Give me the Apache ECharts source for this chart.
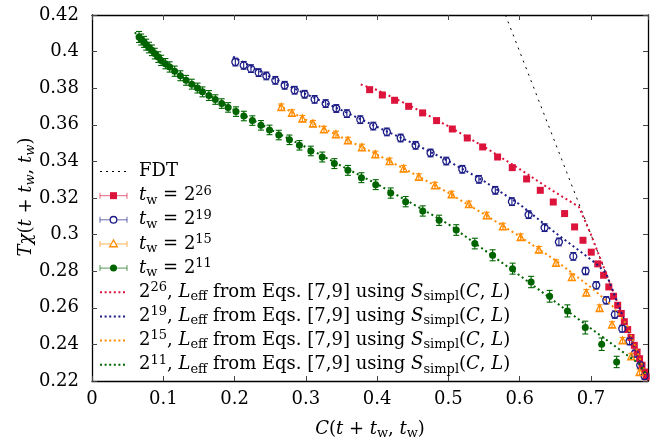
<!DOCTYPE html>
<html><head><meta charset="utf-8">
<script src="https://cdn.jsdelivr.net/npm/echarts@6/dist/echarts.min.js"></script>
<style>html,body{margin:0;padding:0;background:#fff}#c{width:657px;height:445px}</style>
</head><body><div id="c"></div>
<script>
// ---- tick labels ----
const xTickLabels = ['0','0.1','0.2','0.3','0.4','0.5','0.6','0.7'];
const yTickLabels = ['0.22','0.24','0.26','0.28','0.3','0.32','0.34','0.36','0.38','0.4','0.42'];

// ---- FDT line ----
const fdtX = [0.58, 0.78];
const fdtY = [0.42, 0.22];

// ---- t_w = 2^26 (red squares) ----
const rX = [0.3895,0.4073,0.4245,0.4442,0.4638,0.4834,0.5055,0.5265,0.5480,0.5690,0.5896,0.6097,0.6289,0.6471,0.6630,0.6770,0.6888,0.7004,0.7095,0.7177,0.7250,0.7317,0.7375,0.7425,0.7468,0.7515,0.7562,0.7608,0.7647,0.7682,0.7716,0.7752,0.7775];
const rY = [0.3792,0.3763,0.3734,0.3701,0.3665,0.3623,0.3577,0.3528,0.3479,0.3424,0.3366,0.3304,0.3242,0.3178,0.3115,0.3042,0.2969,0.2904,0.2840,0.2778,0.2714,0.2663,0.2614,0.2569,0.2524,0.2481,0.2438,0.2395,0.2358,0.2322,0.2286,0.2249,0.2223];

// ---- t_w = 2^19 (blue open circles) ----
const bX = [0.2011,0.2128,0.2230,0.2338,0.2446,0.2572,0.2703,0.2843,0.2983,0.3123,0.3278,0.3427,0.3576,0.3764,0.3946,0.4137,0.4330,0.4540,0.4750,0.4970,0.5195,0.5428,0.5658,0.5891,0.6125,0.6349,0.6550,0.6752,0.6924,0.7074,0.7215,0.7335,0.7439,0.7541,0.7616,0.7691,0.7752];
const bY = [0.3943,0.3925,0.3907,0.3885,0.3867,0.3843,0.3816,0.3789,0.3767,0.3739,0.3716,0.3689,0.3661,0.3628,0.3593,0.3561,0.3528,0.3488,0.3446,0.3402,0.3357,0.3302,0.3242,0.3180,0.3109,0.3038,0.2960,0.2881,0.2801,0.2723,0.2641,0.2563,0.2486,0.2417,0.2350,0.2286,0.2227];
const bE = [0.0021,0.0021,0.0021,0.0021,0.0021,0.0021,0.0021,0.0021,0.0021,0.0021,0.0021,0.0021,0.0021,0.0021,0.0021,0.0021,0.0021,0.0021,0.0021,0.0021,0.0021,0.0021,0.0021,0.0021,0.0021,0.0021,0.0021,0.0021,0.0020,0.0020,0.0020,0.0020,0.0019,0.0019,0.0019,0.0018,0.0018];

// ---- t_w = 2^15 (orange open triangles) ----
const oX = [0.2656,0.2805,0.2951,0.3100,0.3254,0.3422,0.3590,0.3787,0.3975,0.4175,0.4372,0.4586,0.4811,0.5045,0.5288,0.5536,0.5764,0.6013,0.6269,0.6510,0.6732,0.6934,0.7121,0.7296,0.7443,0.7565,0.7682];
const oY = [0.3697,0.3665,0.3634,0.3607,0.3575,0.3548,0.3515,0.3477,0.3439,0.3401,0.3361,0.3315,0.3269,0.3220,0.3166,0.3105,0.3045,0.2987,0.2918,0.2845,0.2768,0.2683,0.2599,0.2508,0.2422,0.2335,0.2249];
const oE = [0.0017,0.0017,0.0017,0.0017,0.0017,0.0017,0.0017,0.0017,0.0017,0.0017,0.0017,0.0017,0.0017,0.0017,0.0017,0.0017,0.0017,0.0017,0.0017,0.0017,0.0017,0.0017,0.0017,0.0016,0.0016,0.0016,0.0016];

// ---- t_w = 2^11 (green filled circles) ----
const gX = [0.066,0.069,0.073,0.076,0.080,0.084,0.088,0.093,0.097,0.103,0.109,0.116,0.124,0.132,0.140,0.148,0.155,0.164,0.173,0.182,0.191,0.202,0.213,0.225,0.237,0.249,0.262,0.277,0.291,0.307,0.323,0.340,0.359,0.378,0.398,0.419,0.440,0.464,0.487,0.511,0.537,0.562,0.590,0.616,0.642,0.667,0.692,0.715,0.736];
const gY = [0.4080,0.4066,0.4053,0.4038,0.4022,0.4007,0.3989,0.3970,0.3952,0.3934,0.3916,0.3893,0.3868,0.3843,0.3822,0.3801,0.3780,0.3760,0.3738,0.3716,0.3695,0.3672,0.3648,0.3623,0.3597,0.3572,0.3544,0.3518,0.3488,0.3457,0.3424,0.3388,0.3351,0.3311,0.3273,0.3227,0.3180,0.3129,0.3078,0.3025,0.2951,0.2887,0.2814,0.2741,0.2663,0.2583,0.2492,0.2401,0.2304];
const gE = [0.0030,0.0030,0.0030,0.0030,0.0029,0.0029,0.0029,0.0029,0.0028,0.0028,0.0028,0.0028,0.0027,0.0027,0.0027,0.0027,0.0027,0.0027,0.0026,0.0026,0.0026,0.0026,0.0026,0.0026,0.0026,0.0026,0.0026,0.0026,0.0026,0.0026,0.0027,0.0027,0.0027,0.0027,0.0027,0.0028,0.0028,0.0028,0.0028,0.0029,0.0029,0.0030,0.0030,0.0031,0.0032,0.0033,0.0035,0.0034,0.0031];

// ---- dotted theory curves (L_eff from Eqs. [7,9]) ----
const rLineX = [0.377,0.40,0.45,0.50,0.55,0.60,0.64,0.683,0.70,0.72,0.74,0.76,0.778];
const rLineY = [0.3820,0.3790,0.3697,0.3592,0.3480,0.3358,0.3255,0.3152,0.3000,0.2800,0.2600,0.2400,0.2220];
const bLineX = [0.198,0.25,0.30,0.35,0.40,0.45,0.50,0.55,0.60,0.65,0.689,0.707,0.721,0.74,0.76,0.777];
const bLineY = [0.3972,0.3862,0.3768,0.3680,0.3588,0.3500,0.3402,0.3292,0.3165,0.3010,0.2896,0.2842,0.2790,0.2600,0.2400,0.2230];
const oLineX = [0.262,0.30,0.35,0.40,0.45,0.50,0.55,0.60,0.65,0.70,0.73,0.75,0.765,0.777];
const oLineY = [0.3707,0.3628,0.3532,0.3437,0.3335,0.3228,0.3112,0.2990,0.2860,0.2712,0.2610,0.2510,0.2360,0.2230];
const gLineX = [0.060,0.08,0.10,0.13,0.16,0.20,0.25,0.30,0.35,0.40,0.45,0.50,0.55,0.60,0.65,0.70,0.74,0.768,0.778];
const gLineY = [0.4105,0.4027,0.3947,0.3852,0.3772,0.3680,0.3575,0.3478,0.3375,0.3276,0.3168,0.3057,0.2917,0.2777,0.2632,0.2487,0.2372,0.2292,0.2235];

const RED = '#dc143c', BLUE = '#1c1c86', ORANGE = '#ff8c00', GREEN = '#006400';
const SERIF = '"DejaVu Serif", "Liberation Serif", serif';
const FS = 18, FSS = 13;

function zip2(a, b) { return a.map((v, i) => [v, b[i]]); }
function zip3(a, b, c) { return a.map((v, i) => [v, b[i], c[i]]); }

function errRender(color) {
  return function (params, api) {
    const x = api.value(0), y = api.value(1), e = api.value(2);
    const t = api.coord([x, y + e]), b = api.coord([x, y - e]);
    const cw = 3;
    const st = { stroke: color, lineWidth: 1.1 };
    return { type: 'group', children: [
      { type: 'line', shape: { x1: t[0], y1: t[1], x2: b[0], y2: b[1] }, style: st },
      { type: 'line', shape: { x1: t[0] - cw, y1: t[1], x2: t[0] + cw, y2: t[1] }, style: st },
      { type: 'line', shape: { x1: b[0] - cw, y1: b[1], x2: b[0] + cw, y2: b[1] }, style: st }
    ]};
  };
}
function errSeries(x, y, e, color) {
  return { type: 'custom', renderItem: errRender(color), data: zip3(x, y, e),
    encode: { x: 0, y: 1 }, silent: true, animation: false, z: 3 };
}
function dotted(x, y, color) {
  return { type: 'line', data: zip2(x, y), showSymbol: false, symbol: 'none', silent: true,
    lineStyle: { color: color, width: 2, type: [2, 3] }, animation: false, z: 5 };
}

const chart = echarts.init(document.getElementById('c'), null, { renderer: 'canvas' });

const axisCommonX = { type: 'value', min: 0, max: 0.78, interval: 0.1, splitLine: { show: false },
  axisLine: { show: true, onZero: false, lineStyle: { color: '#000', width: 1.3 } },
  axisTick: { show: true, inside: true, length: 5, lineStyle: { color: '#444', width: 1 } } };
const axisCommonY = { type: 'value', min: 0.22, max: 0.42, interval: 0.02, splitLine: { show: false },
  axisLine: { show: true, onZero: false, lineStyle: { color: '#000', width: 1.3 } },
  axisTick: { show: true, inside: true, length: 5, lineStyle: { color: '#444', width: 1 } } };

const rich = {
  i: { fontStyle: 'italic', fontFamily: SERIF, fontSize: FS, color: '#000' },
  sub: { fontFamily: SERIF, fontSize: FSS, padding: [9, 0, 0, 0], color: '#000' },
  isub: { fontFamily: SERIF, fontStyle: 'italic', fontSize: FSS, padding: [9, 0, 0, 0], color: '#000' },
  sup: { fontFamily: SERIF, fontSize: FSS, padding: [0, 0, 9, 0], color: '#000' }
};
function txt(x, y, s, align) {
  return { type: 'text', x: x, y: y, style: { text: s, rich: rich, fontFamily: SERIF, fontSize: FS, fill: '#000', align: align || 'left', verticalAlign: 'middle' } };
}

// legend (graphic)
const LX0 = 100, LX1 = 127, LTX = 139, LY0 = 171.5, LDY = 24.15;
const legendRows = [
  { kind: 'fdt', color: '#000', text: 'FDT' },
  { kind: 'pt', color: RED, sym: 'rect', text: '{i|t}{sub|w} = 2{sup|26}' },
  { kind: 'pt', color: BLUE, sym: 'circle', text: '{i|t}{sub|w} = 2{sup|19}' },
  { kind: 'pt', color: ORANGE, sym: 'triangle', text: '{i|t}{sub|w} = 2{sup|15}' },
  { kind: 'pt', color: GREEN, sym: 'dot', text: '{i|t}{sub|w} = 2{sup|11}' },
  { kind: 'ln', color: RED, text: '2{sup|26}, {i|L}{sub|eff} from Eqs. [7,9] using {i|S}{sub|simpl}({i|C}, {i|L})' },
  { kind: 'ln', color: BLUE, text: '2{sup|19}, {i|L}{sub|eff} from Eqs. [7,9] using {i|S}{sub|simpl}({i|C}, {i|L})' },
  { kind: 'ln', color: ORANGE, text: '2{sup|15}, {i|L}{sub|eff} from Eqs. [7,9] using {i|S}{sub|simpl}({i|C}, {i|L})' },
  { kind: 'ln', color: GREEN, text: '2{sup|11}, {i|L}{sub|eff} from Eqs. [7,9] using {i|S}{sub|simpl}({i|C}, {i|L})' }
];
const graphics = [];
legendRows.forEach((r, k) => {
  const y = LY0 + k * LDY;
  if (r.kind === 'fdt') {
    graphics.push({ type: 'line', shape: { x1: LX0, y1: y, x2: LX1, y2: y }, style: { stroke: '#000', lineWidth: 1, lineDash: [2, 4] } });
  } else if (r.kind === 'ln') {
    graphics.push({ type: 'line', shape: { x1: LX0, y1: y, x2: LX1, y2: y }, style: { stroke: r.color, lineWidth: 2, lineDash: [2, 2.6] } });
  } else {
    const st = { stroke: r.color, lineWidth: 1.1, opacity: 0.6 };
    graphics.push({ type: 'line', shape: { x1: LX0, y1: y, x2: LX1, y2: y }, style: st });
    graphics.push({ type: 'line', shape: { x1: LX0, y1: y - 3, x2: LX0, y2: y + 3 }, style: st });
    graphics.push({ type: 'line', shape: { x1: LX1, y1: y - 3, x2: LX1, y2: y + 3 }, style: st });
    const cx = (LX0 + LX1) / 2;
    if (r.sym === 'rect') graphics.push({ type: 'rect', shape: { x: cx - 3.5, y: y - 3.5, width: 7, height: 7 }, style: { fill: r.color } });
    if (r.sym === 'circle') graphics.push({ type: 'circle', shape: { cx: cx, cy: y, r: 3.3 }, style: { fill: '#fff', stroke: r.color, lineWidth: 1.3 } });
    if (r.sym === 'triangle') graphics.push({ type: 'polygon', shape: { points: [[cx, y - 4], [cx - 3.8, y + 2.8], [cx + 3.8, y + 2.8]] }, style: { fill: '#fff', stroke: r.color, lineWidth: 1.3 } });
    if (r.sym === 'dot') graphics.push({ type: 'circle', shape: { cx: cx, cy: y, r: 3.5 }, style: { fill: r.color } });
  }
  graphics.push(txt(LTX, y, r.text));
});
// axis titles
graphics.push(txt(370, 429, '{i|C}({i|t} + {i|t}{sub|w}, {i|t}{sub|w})', 'center'));
graphics.push({ type: 'group', x: 26, y: 197, rotation: Math.PI / 2,
  children: [txt(0, 0, '{i|Tχ}({i|t} + {i|t}{isub|w}, {i|t}{isub|w})', 'center')] });

const option = {
  animation: false,
  backgroundColor: '#fff',
  grid: { left: 92, top: 15, width: 556, height: 366, containLabel: false },
  xAxis: [
    Object.assign({}, axisCommonX, { position: 'bottom',
      axisLabel: { show: true, showMaxLabel: false, margin: 9, color: '#000', fontFamily: SERIF, fontSize: FS,
        formatter: v => xTickLabels[Math.round(v / 0.1)] || '' } }),
    Object.assign({}, axisCommonX, { position: 'top', axisLabel: { show: false } })
  ],
  yAxis: [
    Object.assign({}, axisCommonY, { position: 'left',
      axisLabel: { show: true, margin: 13, color: '#000', fontFamily: SERIF, fontSize: FS,
        formatter: v => yTickLabels[Math.round((v - 0.22) / 0.02)] || '' } }),
    Object.assign({}, axisCommonY, { position: 'right', axisLabel: { show: false } })
  ],
  graphic: graphics,
  series: [
    { type: 'line', data: zip2(fdtX, fdtY), symbol: 'none', silent: true,
      lineStyle: { color: '#000', width: 1, type: [2, 5] }, z: 2 },
    { type: 'scatter', data: zip2(rX, rY), symbol: 'rect', symbolSize: 7, itemStyle: { color: RED, opacity: 1 }, z: 4 },
    errSeries(bX, bY, bE, BLUE),
    { type: 'scatter', data: zip2(bX, bY), symbol: 'circle', symbolSize: 7,
      itemStyle: { color: 'rgba(0,0,0,0)', borderColor: BLUE, borderWidth: 1.3, opacity: 1 }, z: 4 },
    errSeries(oX, oY, oE, ORANGE),
    { type: 'scatter', data: zip2(oX, oY), symbol: 'triangle', symbolSize: 7,
      itemStyle: { color: 'rgba(0,0,0,0)', borderColor: ORANGE, borderWidth: 1.3, opacity: 1 }, z: 4 },
    errSeries(gX, gY, gE, GREEN),
    { type: 'scatter', data: zip2(gX, gY), symbol: 'circle', symbolSize: 7, itemStyle: { color: GREEN, opacity: 1 }, z: 4 },
    dotted(rLineX, rLineY, RED),
    dotted(bLineX, bLineY, BLUE),
    dotted(oLineX, oLineY, ORANGE),
    dotted(gLineX, gLineY, GREEN)
  ]
};
chart.setOption(option);
</script>
</body></html>
